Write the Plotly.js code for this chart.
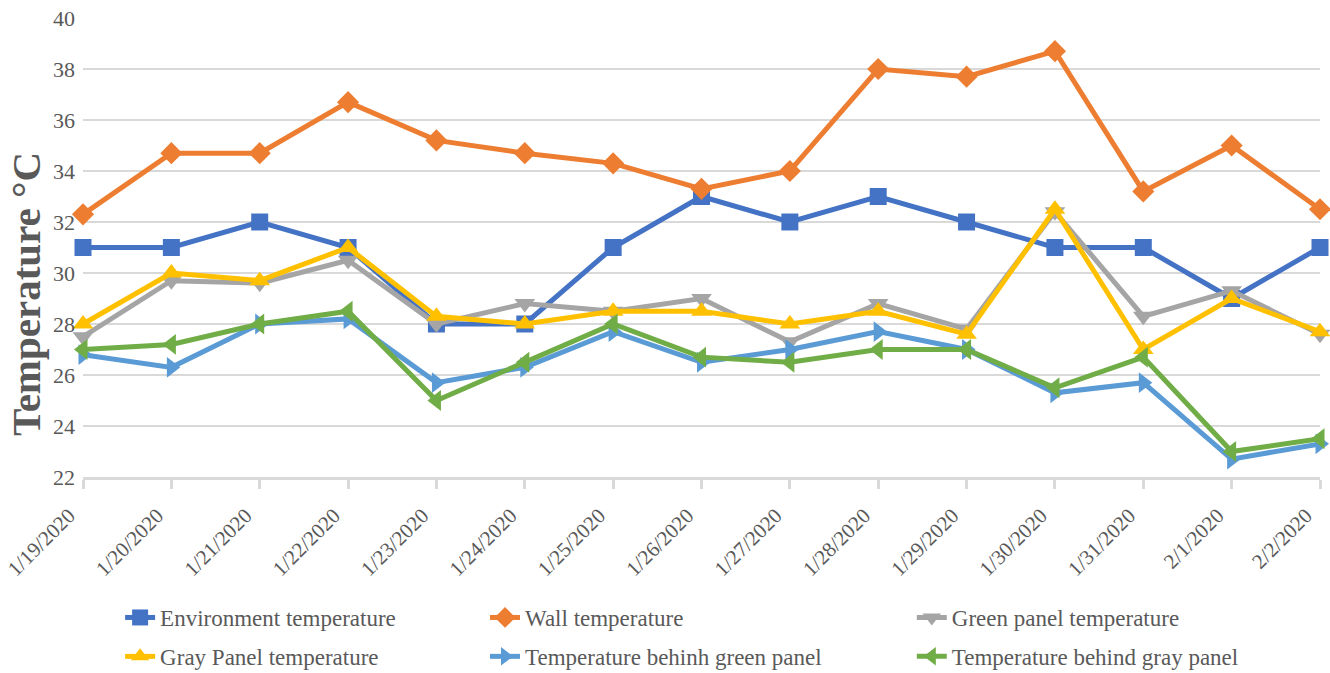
<!DOCTYPE html>
<html>
<head>
<meta charset="utf-8">
<script src="https://cdn.plot.ly/plotly-3.0.1.min.js"></script>
<style>html,body{margin:0;padding:0;background:#fff;}#chart{width:1330px;height:673px;}</style>
</head>
<body>
<div id="chart"></div>
<script>
const dates = ["1/19/2020","1/20/2020","1/21/2020","1/22/2020","1/23/2020","1/24/2020","1/25/2020","1/26/2020","1/27/2020","1/28/2020","1/29/2020","1/30/2020","1/31/2020","2/1/2020","2/2/2020"];
const environment = [31, 31, 32, 31, 28, 28, 31, 33, 32, 33, 32, 31, 31, 29, 31];
const wall = [32.3, 34.7, 34.7, 36.7, 35.2, 34.7, 34.3, 33.3, 34.0, 38.0, 37.7, 38.7, 33.2, 35.0, 32.5];
const greenPanel = [27.5, 29.7, 29.6, 30.5, 28.0, 28.8, 28.5, 29.0, 27.3, 28.8, 27.8, 32.4, 28.3, 29.3, 27.6];
const grayPanel = [28.0, 30.0, 29.7, 31.0, 28.3, 28.0, 28.5, 28.5, 28.0, 28.5, 27.6, 32.5, 27.0, 29.0, 27.7];
const behindGreen = [26.8, 26.3, 28.0, 28.2, 25.7, 26.3, 27.7, 26.5, 27.0, 27.7, 27.0, 25.3, 25.7, 22.7, 23.3];
const behindGray = [27.0, 27.2, 28.0, 28.5, 25.0, 26.5, 28.0, 26.7, 26.5, 27.0, 27.0, 25.5, 26.7, 23.0, 23.5];
const yTicks = [22, 24, 26, 28, 30, 32, 34, 36, 38, 40];

const FONT = "Liberation Serif, Times New Roman, serif";
const TXT = "#595959";

function tr(name, y, color, symbol, size, legend) {
  return {
    type: "scatter", mode: "lines+markers", name: name, x: dates, y: y,
    line: {color: color, width: 5},
    marker: {symbol: symbol, size: size, color: color},
    cliponaxis: false, legend: legend, legendgroup: name
  };
}

const data = [
  tr("Environment temperature", environment, "#4472C4", "square", 17, "legend"),
  tr("Wall temperature", wall, "#ED7D31", "diamond", 17, "legend2"),
  tr("Green panel temperature", greenPanel, "#A5A5A5", "triangle-down", 18, "legend3"),
  tr("Gray Panel temperature", grayPanel, "#FFC000", "triangle-up", 18, "legend"),
  tr("Temperature behinh green panel", behindGreen, "#5B9BD5", "triangle-right", 18, "legend2"),
  tr("Temperature behind gray panel", behindGray, "#70AD47", "triangle-left", 18, "legend3")
];

const legendBase = {
  orientation: "v", yanchor: "top", xanchor: "left", yref: "container", y: 0.1144,
  font: {family: FONT, size: 23, color: TXT},
  bgcolor: "rgba(0,0,0,0)", traceorder: "grouped", tracegroupgap: 6,
  itemclick: false, itemdoubleclick: false
};

const layout = {
  width: 1330, height: 673,
  margin: {l: 83, r: 10, t: 18, b: 196, autoexpand: false},
  paper_bgcolor: "#fff", plot_bgcolor: "#fff",
  font: {family: FONT, size: 20, color: TXT},
  showlegend: true,
  xaxis: {
    type: "category", range: [0, 14], tickvals: dates, ticktext: dates,
    tickangle: -45, tickfont: {family: FONT, size: 21, color: TXT},
    ticklabelshift: -14, ticklabelstandoff: 6,
    showline: true, linecolor: "#D9D9D9", linewidth: 3,
    ticks: "outside", ticklen: 9, tickwidth: 3, tickcolor: "#D9D9D9",
    showgrid: false, zeroline: false, automargin: false
  },
  yaxis: {
    range: [22, 40], tickvals: yTicks, ticktext: yTicks.map(String),
    tickfont: {family: FONT, size: 22, color: TXT},
    showgrid: true, gridcolor: "#D9D9D9", gridwidth: 1.5,
    showline: false, zeroline: false, ticks: "", ticklabelstandoff: 7,
    automargin: false
  },
  legend: Object.assign({}, legendBase, {x: 0.030}),
  legend2: Object.assign({}, legendBase, {x: 0.325}),
  legend3: Object.assign({}, legendBase, {x: 0.670}),
  annotations: [{
    text: "Temperature °C", textangle: -90, xref: "paper", yref: "paper",
    x: -0.046, y: 0.399, xanchor: "center", yanchor: "middle", showarrow: false,
    font: {family: FONT, size: 41, color: TXT, weight: "bold"}
  }]
};

Plotly.newPlot("chart", data, layout, {displayModeBar: false, staticPlot: true});
</script>
</body>
</html>
